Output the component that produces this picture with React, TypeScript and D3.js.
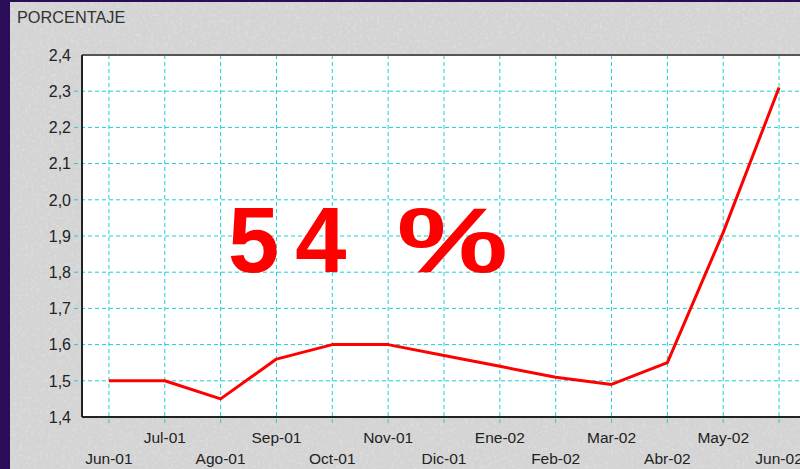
import React from "react";
import * as d3 from "d3";

const categories = ["Jun-01","Jul-01","Ago-01","Sep-01","Oct-01","Nov-01","Dic-01","Ene-02","Feb-02","Mar-02","Abr-02","May-02","Jun-02"];
const values = [1.50,1.50,1.45,1.56,1.60,1.60,1.57,1.54,1.51,1.49,1.55,1.91,2.31];
const yTicks = [1.4,1.5,1.6,1.7,1.8,1.9,2.0,2.1,2.2,2.3,2.4];
const yTitle = "PORCENTAJE";
const bigLabel = ["5", "4", " %"];

const W = 800, H = 469;
const left = 82, top = 55, bottom = 417;

export default function App() {
  const x = d3.scalePoint<string>().domain(categories).range([81, 807]).padding(0.5);
  const y = d3.scaleLinear().domain([1.4, 2.4]).range([bottom, top]);
  const line = d3.line<number>().x((_, i) => x(categories[i])!).y(d => y(d));
  const fmt = (v: number) => v.toFixed(1).replace(".", ",");
  const font = "'Liberation Sans', Arial, sans-serif";
  const grid = "#1ccfd6";
  return (
    <svg width={W} height={H} style={{ position: "fixed", left: 0, top: 0 }} fontFamily={font}>
      <defs>
        <filter id="tex" x="0" y="0" width="100%" height="100%">
          <feTurbulence type="fractalNoise" baseFrequency="0.35" numOctaves={3} seed={4} result="n" />
          <feColorMatrix in="n" type="matrix" values="0 0 0 0 1  0 0 0 0 1  0 0 0 0 1  0.6 0 0 0 -0.3" result="w" />
          <feComposite in="w" in2="SourceGraphic" operator="atop" />
        </filter>
      </defs>
      <rect x={0} y={0} width={W} height={H} fill="#2a0c58" />
      <rect x={10} y={2} width={W - 10} height={H - 2} fill="#d4d4d4" filter="url(#tex)" />
      <text x={17} y={23} fontSize={16.3} fill="#333">{yTitle}</text>
      <rect x={left} y={top} width={W - left + 5} height={bottom - top} fill="#fff" />
      {yTicks.map(t => (
        <g key={t}>
          {t > 1.4 && t < 2.4 && (
            <line x1={74} x2={W} y1={y(t)} y2={y(t)} stroke={grid} strokeWidth={1} strokeDasharray="4,3" />
          )}
          <text x={71} y={y(t)} dy="0.36em" textAnchor="end" fontSize={16} fill="#222">{fmt(t)}</text>
        </g>
      ))}
      {categories.map((c, i) => (
        <g key={c}>
          <line x1={x(c)} x2={x(c)} y1={top} y2={bottom + 6} stroke={grid} strokeWidth={1} strokeDasharray="4,3" />
          <text x={x(c)} y={i % 2 === 1 ? 443 : 464} textAnchor="middle" fontSize={15.5} fill="#222">{c}</text>
        </g>
      ))}
      <line x1={left} x2={W} y1={top} y2={top} stroke="#555" strokeWidth={2} />
      <line x1={left} x2={W} y1={bottom} y2={bottom} stroke="#222" strokeWidth={2} />
      <line x1={left} x2={left} y1={top} y2={bottom} stroke="#222" strokeWidth={2} />
      <text y={272} fontSize={92} fontWeight="bold" fill="#ff0000">
        <tspan x={228}>{bigLabel[0]}</tspan>
        <tspan dx={16}>{bigLabel[1]}</tspan>
        <tspan x={362} textLength={146} lengthAdjust="spacingAndGlyphs">{bigLabel[2]}</tspan>
      </text>
      <path d={line(values)!} fill="none" stroke="#ff0000" strokeWidth={3} strokeLinejoin="round" />
    </svg>
  );
}
